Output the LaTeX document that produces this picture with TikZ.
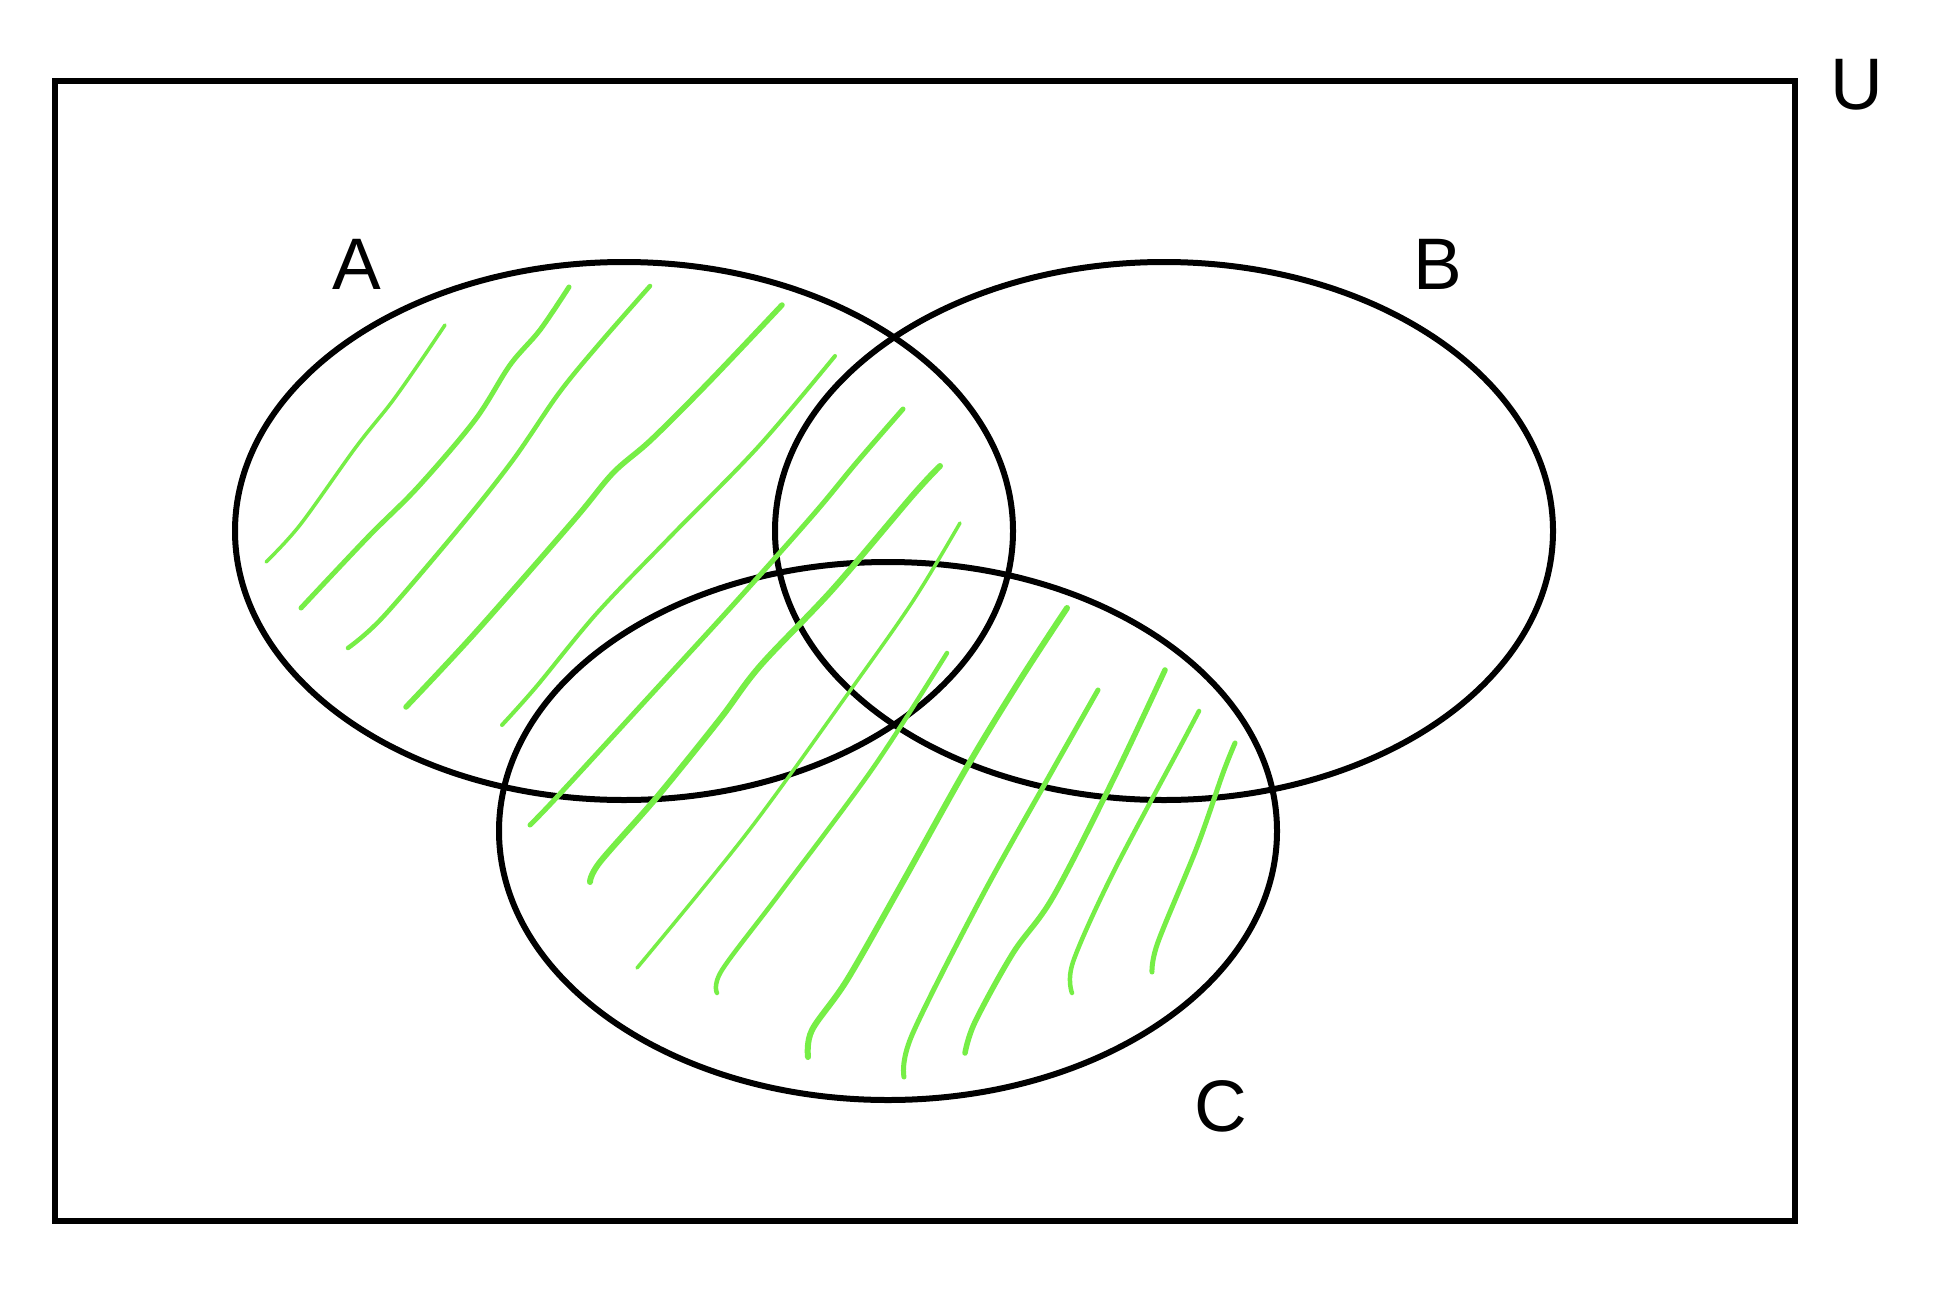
\documentclass[tikz,border=0pt]{standalone}
\usepackage{fontspec}
\setmainfont{Liberation Sans}
\definecolor{hatchgreen}{RGB}{118,238,70}
\begin{document}
\begin{tikzpicture}[x=1pt,y=-1pt,
  setline/.style={draw=black,line width=6pt},
  lbl/.style={font=\fontsize{73}{80}\selectfont,inner sep=0pt,anchor=center},
  hatch/.style={draw=hatchgreen,line cap=round,line join=round,line width=#1},
  hatch/.default=5pt]
\useasboundingbox (0,0) rectangle (1942,1298);
\fill[white] (0,0) rectangle (1942,1298);
% universe
\coordinate (UL) at (55,81);
\coordinate (LR) at (1795,1221);
\draw[setline] (UL) rectangle (LR);
% sets
\coordinate (cA) at (624,531);
\coordinate (cB) at (1164,531);
\coordinate (cC) at (888,831);
\draw[setline] (cA) ellipse [x radius=389pt, y radius=269pt];
\draw[setline] (cB) ellipse [x radius=389pt, y radius=269pt];
\draw[setline] (cC) ellipse [x radius=389pt, y radius=269pt];
% labels
\node[lbl] (lA) at (357,264) {A};
\node[lbl] (lB) at (1438,264) {B};
\node[lbl] (lC) at (1221,1106) {C};
\node[lbl] (lU) at (1857,85) {U};
% hatching
\draw[hatch=3.5pt] plot[smooth,tension=0.55] coordinates {(266,562) (300,525) (356,447) (391,403) (420,362) (445,325)};
\draw[hatch=5pt] plot[smooth,tension=0.55] coordinates {(301,608) (368,537) (418,487) (475,420) (510,365) (540,330) (569,287)};
\draw[hatch=4.5pt] plot[smooth,tension=0.55] coordinates {(348,648) (383,617) (460,527) (513,460) (559,393) (600,343) (650,286)};
\draw[hatch=5.5pt] plot[smooth,tension=0.55] coordinates {(406,707) (475,633) (574,520) (613,473) (651,440) (708,383) (782,305)};
\draw[hatch=4pt] plot[smooth,tension=0.55] coordinates {(502,725) (536,687) (597,613) (670,537) (758,447) (835,356)};
\draw[hatch=5pt] plot[smooth,tension=0.55] coordinates {(530,825) (557,797) (647,699) (733,605) (813,515) (857,462) (903,409)};
\draw[hatch=6pt] plot[smooth,tension=0.55] coordinates {(590,882) (600,862) (657,797) (720,719) (760,666) (833,589) (913,495) (940,466)};
\draw[hatch=3.5pt] plot[smooth,tension=0.55] coordinates {(637,968) (747,833) (847,695) (913,601) (960,523)};
\draw[hatch=4.5pt] plot[smooth,tension=0.55] coordinates {(717,993) (722,970) (780,893) (873,768) (947,653)};
\draw[hatch=6pt] plot[smooth,tension=0.55] coordinates {(808,1057) (812,1030) (847,980) (900,887) (967,767) (1020,680) (1067,608)};
\draw[hatch=5pt] plot[smooth,tension=0.55] coordinates {(904,1077) (912,1035) (980,900) (1047,780) (1098,690)};
\draw[hatch=5.5pt] plot[smooth,tension=0.55] coordinates {(965,1053) (975,1022) (1013,953) (1053,897) (1113,780) (1165,670)};
\draw[hatch=4.5pt] plot[smooth,tension=0.55] coordinates {(1072,993) (1073,962) (1113,873) (1180,747) (1199,711)};
\draw[hatch=5pt] plot[smooth,tension=0.55] coordinates {(1152,972) (1158,942) (1197,847) (1223,773) (1235,743)};
\end{tikzpicture}
\end{document}
